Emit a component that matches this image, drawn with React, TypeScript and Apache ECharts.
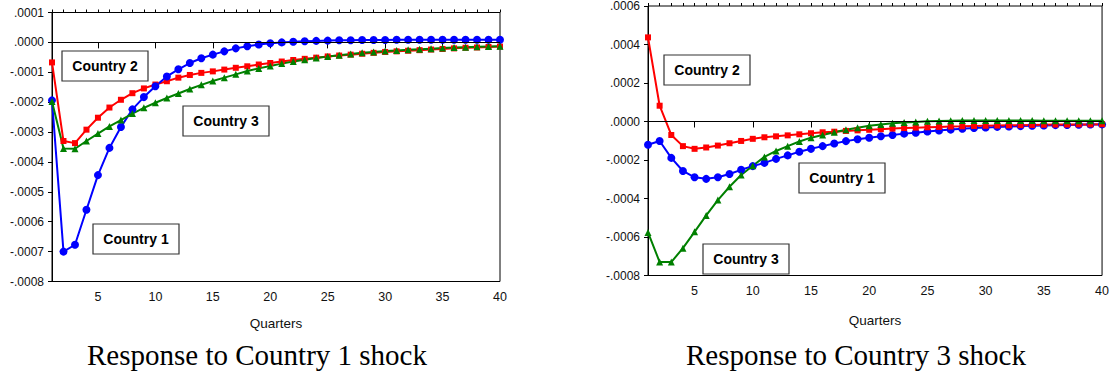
import React, { useEffect, useRef } from "react";
import * as echarts from "echarts";

const quarters = [
  1, 2, 3, 4, 5, 6, 7, 8, 9, 10, 11, 12, 13, 14, 15, 16, 17, 18, 19, 20,
  21, 22, 23, 24, 25, 26, 27, 28, 29, 30, 31, 32, 33, 34, 35, 36, 37, 38, 39, 40,
];
const xTickLabels = [5, 10, 15, 20, 25, 30, 35, 40];
const seriesNames = ["Country 1", "Country 2", "Country 3"];
const panelTitles = ["Response to Country 1 shock", "Response to Country 3 shock"];

// Response to Country 1 shock
const c1ShockCountry1 = [
  -1.94e-4, -7.0e-4, -6.77e-4, -5.6e-4, -4.44e-4, -3.53e-4, -2.83e-4, -2.24e-4, -1.83e-4, -1.47e-4,
  -1.14e-4, -0.9e-4, -0.69e-4, -0.53e-4, -0.41e-4, -0.3e-4, -0.2e-4, -0.13e-4, -0.07e-4, -0.03e-4,
  0.0, 0.02e-4, 0.04e-4, 0.05e-4, 0.06e-4, 0.07e-4, 0.07e-4, 0.08e-4, 0.08e-4, 0.08e-4,
  0.09e-4, 0.09e-4, 0.09e-4, 0.09e-4, 0.09e-4, 0.09e-4, 0.09e-4, 0.09e-4, 0.09e-4, 0.09e-4,
];
const c1ShockCountry2 = [
  -0.67e-4, -3.3e-4, -3.37e-4, -2.92e-4, -2.52e-4, -2.18e-4, -1.92e-4, -1.7e-4, -1.54e-4, -1.41e-4,
  -1.3e-4, -1.18e-4, -1.09e-4, -1.02e-4, -0.97e-4, -0.91e-4, -0.85e-4, -0.8e-4, -0.74e-4, -0.69e-4,
  -0.64e-4, -0.59e-4, -0.55e-4, -0.51e-4, -0.47e-4, -0.44e-4, -0.41e-4, -0.38e-4, -0.35e-4, -0.32e-4,
  -0.3e-4, -0.28e-4, -0.26e-4, -0.24e-4, -0.22e-4, -0.2e-4, -0.18e-4, -0.17e-4, -0.155e-4, -0.14e-4,
];
const c1ShockCountry3 = [
  -1.98e-4, -3.55e-4, -3.56e-4, -3.3e-4, -3.05e-4, -2.81e-4, -2.6e-4, -2.38e-4, -2.19e-4, -2.02e-4,
  -1.86e-4, -1.71e-4, -1.56e-4, -1.42e-4, -1.29e-4, -1.18e-4, -1.07e-4, -0.96e-4, -0.87e-4, -0.79e-4,
  -0.71e-4, -0.64e-4, -0.58e-4, -0.52e-4, -0.47e-4, -0.43e-4, -0.39e-4, -0.35e-4, -0.32e-4, -0.29e-4,
  -0.27e-4, -0.25e-4, -0.23e-4, -0.21e-4, -0.19e-4, -0.17e-4, -0.16e-4, -0.15e-4, -0.14e-4, -0.13e-4,
];

// Response to Country 3 shock
const c3ShockCountry1 = [
  -1.21e-4, -1.01e-4, -1.89e-4, -2.57e-4, -2.9e-4, -2.98e-4, -2.9e-4, -2.73e-4, -2.51e-4, -2.32e-4,
  -2.15e-4, -1.94e-4, -1.76e-4, -1.57e-4, -1.42e-4, -1.28e-4, -1.14e-4, -1.02e-4, -0.92e-4, -0.84e-4,
  -0.77e-4, -0.7e-4, -0.63e-4, -0.58e-4, -0.52e-4, -0.47e-4, -0.42e-4, -0.38e-4, -0.34e-4, -0.31e-4,
  -0.28e-4, -0.26e-4, -0.24e-4, -0.22e-4, -0.21e-4, -0.19e-4, -0.18e-4, -0.17e-4, -0.16e-4, -0.15e-4,
];
const c3ShockCountry2 = [
  4.37e-4, 0.82e-4, -0.7e-4, -1.28e-4, -1.42e-4, -1.35e-4, -1.25e-4, -1.13e-4, -1.01e-4, -0.9e-4,
  -0.82e-4, -0.77e-4, -0.72e-4, -0.665e-4, -0.61e-4, -0.56e-4, -0.53e-4, -0.49e-4, -0.46e-4, -0.43e-4,
  -0.4e-4, -0.37e-4, -0.34e-4, -0.32e-4, -0.3e-4, -0.28e-4, -0.26e-4, -0.25e-4, -0.23e-4, -0.22e-4,
  -0.21e-4, -0.2e-4, -0.19e-4, -0.18e-4, -0.17e-4, -0.16e-4, -0.16e-4, -0.15e-4, -0.15e-4, -0.14e-4,
];
const c3ShockCountry3 = [
  -5.76e-4, -7.3e-4, -7.3e-4, -6.58e-4, -5.73e-4, -4.88e-4, -4.08e-4, -3.39e-4, -2.78e-4, -2.3e-4,
  -1.84e-4, -1.53e-4, -1.28e-4, -1.04e-4, -0.84e-4, -0.7e-4, -0.56e-4, -0.43e-4, -0.32e-4, -0.22e-4,
  -0.15e-4, -0.09e-4, -0.05e-4, -0.02e-4, 0.01e-4, 0.03e-4, 0.04e-4, 0.05e-4, 0.05e-4, 0.05e-4,
  0.05e-4, 0.05e-4, 0.05e-4, 0.05e-4, 0.04e-4, 0.04e-4, 0.04e-4, 0.04e-4, 0.04e-4, 0.04e-4,
];

const SANS = "'Liberation Sans', Arial, Helvetica, sans-serif";
const SERIF = "'Liberation Serif', 'Times New Roman', serif";
const COLORS = { c1: "#0000ff", c2: "#ff0000", c3: "#008000" };

const fmtY = (v: number) => {
  const s = Math.abs(v) < 1e-12 ? "0.0000" : v.toFixed(4);
  return s.replace("0.", ".");
};

function makeSeries(
  name: string,
  values: number[],
  color: string,
  symbol: string,
  symbolSize: number,
  axisIdx: number,
  yIdx: number,
  withZero: boolean
) {
  const s: any = {
    name,
    type: "line",
    xAxisIndex: axisIdx,
    yAxisIndex: yIdx,
    data: quarters.map((q, i) => [q, values[i]]),
    symbol,
    symbolSize,
    showSymbol: true,
    color,
    itemStyle: { color },
    lineStyle: { color, width: 2 },
    animation: false,
  };
  if (withZero) {
    s.markLine = {
      silent: true,
      symbol: ["none", "none"],
      label: { show: false },
      lineStyle: { color: "#000", width: 1, type: "solid" },
      data: [{ yAxis: 0 }],
      animation: false,
    };
  }
  return s;
}

function xAxesFor(gridIndex: number, nameGap: number) {
  return [
    {
      gridIndex,
      type: "value",
      min: 1,
      max: 40,
      name: "Quarters",
      nameLocation: "middle",
      nameGap,
      nameTextStyle: { fontFamily: SANS, fontSize: 13.5, color: "#111" },
      axisLine: { show: true, lineStyle: { color: "#000", width: 1 } },
      axisTick: { show: true, length: 6, customValues: xTickLabels, lineStyle: { color: "#000" } },
      axisLabel: {
        show: true,
        customValues: xTickLabels,
        fontFamily: SANS,
        fontSize: 12.5,
        color: "#111",
        margin: 9,
      },
      splitLine: { show: false },
    },
    {
      gridIndex,
      type: "value",
      min: 1,
      max: 40,
      axisLine: { show: false },
      axisTick: { show: true, length: 3, customValues: quarters, lineStyle: { color: "#000" } },
      axisLabel: { show: false },
      splitLine: { show: false },
    },
  ];
}

function yAxisFor(gridIndex: number, max: number, interval: number) {
  return {
    gridIndex,
    type: "value",
    min: -0.0008,
    max,
    interval,
    axisLine: { show: true, lineStyle: { color: "#000", width: 1 } },
    axisTick: { show: true, length: 4, lineStyle: { color: "#000" } },
    axisLabel: {
      formatter: fmtY,
      fontFamily: SANS,
      fontSize: 12,
      color: "#111",
      margin: 8,
    },
    splitLine: { show: false },
  };
}

function labelBox(text: string, x: number, y: number) {
  const w = 86;
  const h = 30;
  return [
    {
      type: "rect",
      shape: { x, y, width: w, height: h },
      style: { fill: "#fff", stroke: "#333", lineWidth: 1.2 },
      z: 100,
    },
    {
      type: "text",
      x: x + w / 2,
      y: y + h / 2,
      style: {
        text,
        font: `bold 14px ${SANS}`,
        fill: "#000",
        textAlign: "center",
        textVerticalAlign: "middle",
      },
      z: 101,
    },
  ];
}

export default function App() {
  const ref = useRef<HTMLDivElement>(null);
  useEffect(() => {
    document.body.style.margin = "0";
    const chart = echarts.init(ref.current!, null, { renderer: "svg" });
    const option: any = {
      animation: false,
      backgroundColor: "#fff",
      grid: [
        { left: 52, top: 12.5, width: 448, height: 269, show: true, borderColor: "#000", borderWidth: 1, backgroundColor: "transparent" },
        { left: 648, top: 2.5, width: 455, height: 273, show: true, borderColor: "#000", borderWidth: 1, backgroundColor: "transparent" },
      ],
      xAxis: [...xAxesFor(0, 35), ...xAxesFor(1, 38)],
      yAxis: [yAxisFor(0, 0.0001, 0.0001), yAxisFor(1, 0.0006, 0.0002)],
      series: [
        makeSeries(seriesNames[1], c1ShockCountry2, COLORS.c2, "rect", 6, 0, 0, true),
        makeSeries(seriesNames[0], c1ShockCountry1, COLORS.c1, "circle", 8, 0, 0, false),
        makeSeries(seriesNames[2], c1ShockCountry3, COLORS.c3, "triangle", 7, 0, 0, false),
        makeSeries(seriesNames[0], c3ShockCountry1, COLORS.c1, "circle", 8, 2, 1, true),
        makeSeries(seriesNames[1], c3ShockCountry2, COLORS.c2, "rect", 6, 2, 1, false),
        makeSeries(seriesNames[2], c3ShockCountry3, COLORS.c3, "triangle", 7, 2, 1, false),
      ],
      graphic: [
        ...labelBox(seriesNames[1], 62, 51),
        ...labelBox(seriesNames[2], 183, 106),
        ...labelBox(seriesNames[0], 93, 224),
        ...labelBox(seriesNames[1], 664, 55),
        ...labelBox(seriesNames[0], 799, 163),
        ...labelBox(seriesNames[2], 703, 244),
        {
          type: "text",
          x: 257,
          y: 355,
          style: {
            text: panelTitles[0],
            font: `29px ${SERIF}`,
            fill: "#000",
            textAlign: "center",
            textVerticalAlign: "middle",
          },
        },
        {
          type: "text",
          x: 856,
          y: 355,
          style: {
            text: panelTitles[1],
            font: `29px ${SERIF}`,
            fill: "#000",
            textAlign: "center",
            textVerticalAlign: "middle",
          },
        },
      ],
    };
    chart.setOption(option);
    return () => chart.dispose();
  }, []);
  return <div ref={ref} style={{ width: 1112, height: 375 }} />;
}
